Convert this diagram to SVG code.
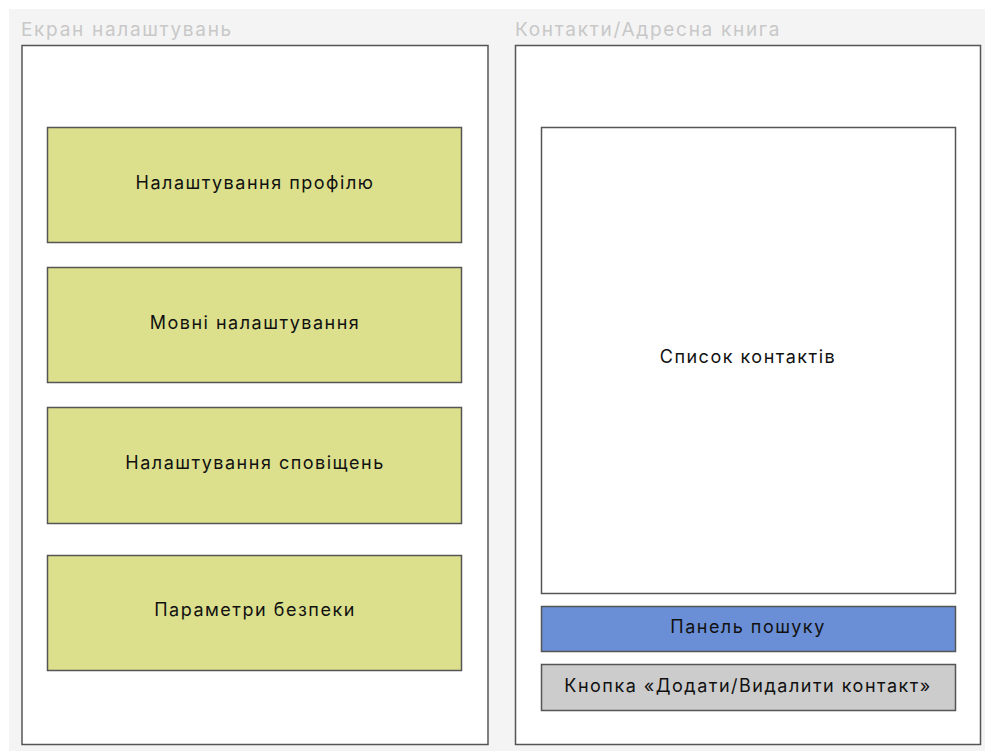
<svg xmlns="http://www.w3.org/2000/svg" width="985" height="751" viewBox="0 0 985 751">
<style>
.title{font-family:Inter,"Noto Sans",sans-serif;font-size:19px;letter-spacing:1.7px;fill:#c8c8c8}
.panel{fill:#ffffff;stroke:#555555;stroke-width:1.5}
.green{fill:#dce08c;stroke:#555555;stroke-width:1.5}
.lbl{font-family:Inter,"Noto Sans",sans-serif;font-size:18px;letter-spacing:1.5px;fill:#111111;text-anchor:middle;dominant-baseline:central}
</style>
<rect x="0" y="0" width="985" height="751" fill="#ffffff"/>
<rect x="9" y="9" width="976" height="742" fill="#f4f4f4"/>
<g id="settings-screen">
<text class="title" x="21" y="36">Екран налаштувань</text>
<rect class="panel" x="22" y="45.5" width="466" height="699"/>
</g>
<g id="profile"><rect class="green" x="47.5" y="127.5" width="414" height="115"/><text class="lbl" x="255" y="182.5">Налаштування профілю</text></g>
<g id="language"><rect class="green" x="47.5" y="267.5" width="414" height="115"/><text class="lbl" x="255" y="322.5">Мовні налаштування</text></g>
<g id="notifications"><rect class="green" x="47.5" y="407.5" width="414" height="116"/><text class="lbl" x="255" y="462.5">Налаштування сповіщень</text></g>
<g id="security"><rect class="green" x="47.5" y="555.5" width="414" height="115"/><text class="lbl" x="255" y="609.5">Параметри безпеки</text></g>
<g id="contacts-screen">
<text class="title" x="515" y="36">Контакти/Адресна книга</text>
<rect class="panel" x="515.5" y="45.5" width="465" height="699"/>
</g>
<g id="contact-list"><rect class="panel" x="541.5" y="127.5" width="414" height="466"/><text class="lbl" x="748" y="356.5">Список контактів</text></g>
<g id="search"><rect x="541.5" y="606.5" width="414" height="45" fill="#6a8fd6" stroke="#555555" stroke-width="1.5"/><text class="lbl" x="748" y="626.5">Панель пошуку</text></g>
<g id="add-remove"><rect x="541.5" y="664.5" width="414" height="46" fill="#cccccc" stroke="#555555" stroke-width="1.5"/><text class="lbl" x="748" y="685.5">Кнопка «Додати/Видалити контакт»</text></g>
<g id="connectors"></g>
</svg>
